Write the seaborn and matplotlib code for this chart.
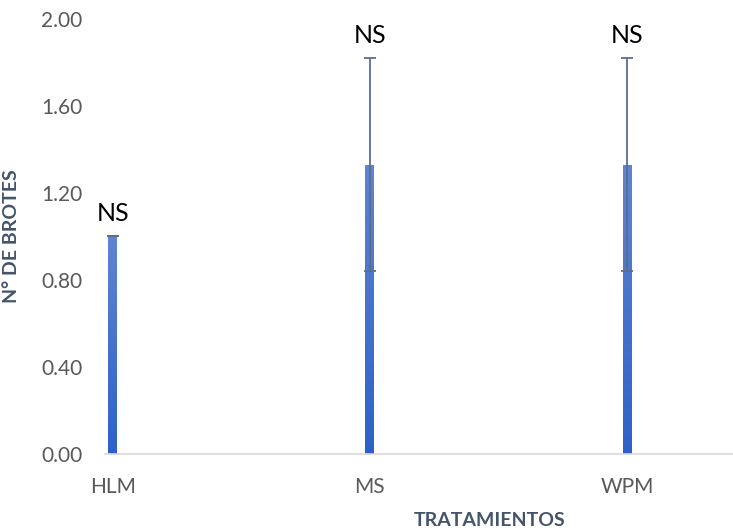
import numpy as np
import pandas as pd
import matplotlib
matplotlib.use("Agg")
import matplotlib.pyplot as plt
from matplotlib.colors import LinearSegmentedColormap
import seaborn as sns

# --- data ---
tratamientos = ["HLM", "MS", "WPM"]
brotes = [1.00, 1.33, 1.33]
desv = [0.00, 0.49, 0.49]
letras = ["NS", "NS", "NS"]

df = pd.DataFrame({"tratamiento": tratamientos, "brotes": brotes})

sns.set_theme(style="white")
plt.rcParams["font.family"] = ["Lato", "DejaVu Sans"]

TEXT_COL = "#44546A"
TICK_COL = "#595959"

fig = plt.figure(figsize=(7.33, 5.32), dpi=100)
ax = fig.add_axes([0.143, 0.147, 0.857, 0.817])

sns.barplot(data=df, x="tratamiento", y="brotes", color="#4472C4",
            width=0.035, errorbar=None, ax=ax, zorder=2)

# gradient fill on each bar (lighter at top)
cmap = LinearSegmentedColormap.from_list("bar", ["#2E61C8", "#5F84D2"])
grad = np.linspace(0, 1, 256).reshape(-1, 1)
for patch in ax.patches:
    x0, y0 = patch.get_x(), patch.get_y()
    w, h = patch.get_width(), patch.get_height()
    im = ax.imshow(grad, cmap=cmap, origin="lower", aspect="auto",
                   extent=[x0, x0 + w, y0, y0 + h], zorder=2)
    im.set_clip_path(patch)
    patch.set_facecolor("none")
    patch.set_edgecolor("none")

pos = np.arange(len(tratamientos))
ax.errorbar(pos, brotes, yerr=desv, fmt="none", ecolor="#5A6E8C",
            elinewidth=1.3, capsize=4, capthick=1.3, zorder=3)

for p, b, e, t in zip(pos, brotes, desv, letras):
    ax.annotate(t, (p, b + e), xytext=(0, 8), textcoords="offset points",
                ha="center", va="bottom", fontsize=18, color="black")

ax.set_xlim(-0.031, 2.412)
ax.set_ylim(0, 2.0)
ax.set_yticks(np.arange(0, 2.01, 0.4))
ax.yaxis.set_major_formatter(matplotlib.ticker.FormatStrFormatter("%.2f"))

ax.tick_params(axis="both", length=0, labelsize=15, labelcolor=TICK_COL)
ax.tick_params(axis="y", pad=16)
ax.tick_params(axis="x", pad=17)

for s in ["top", "right", "left"]:
    ax.spines[s].set_visible(False)
ax.spines["bottom"].set_color("#D9D9D9")
ax.spines["bottom"].set_linewidth(1.2)

ax.set_ylabel("N° DE BROTES", fontsize=14, fontweight="bold", color=TEXT_COL)
ax.yaxis.set_label_coords(-0.135, 0.5)
ax.set_xlabel("TRATAMIENTOS", fontsize=14, fontweight="bold", color=TEXT_COL)
ax.xaxis.set_label_coords(0.613, -0.153)
ax.xaxis.label.set_va("center")

fig.savefig("out.png", dpi=100)
